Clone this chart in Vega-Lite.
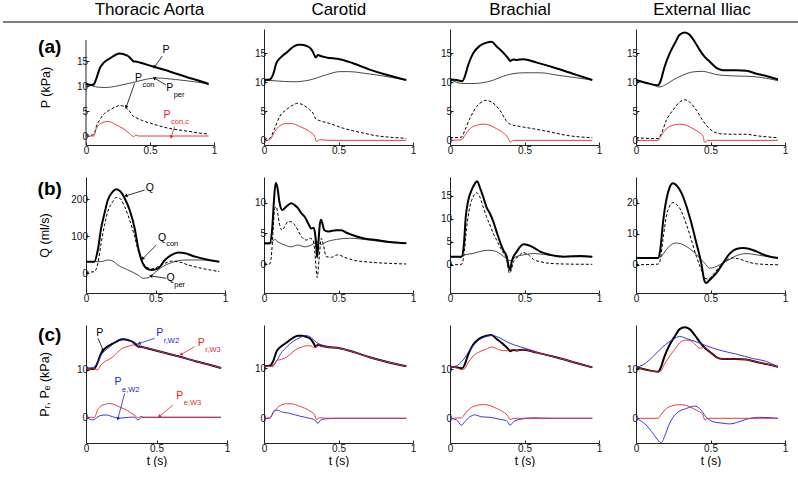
{
"$schema": "https://vega.github.io/schema/vega-lite/v6.json",
"padding": 0,
"background": "white",
"config": {
  "font": "Liberation Sans",
  "view": {"stroke": null},
  "axis": {"grid": false, "labelFont": "Liberation Sans", "labelFontSize": 10, "labelColor": "#111", "domainColor": "#222", "domainWidth": 1, "tickColor": "#222", "tickSize": -3, "labelFlush": false, "labelOverlap": false, "titleFont": "Liberation Sans", "titleFontWeight": "normal", "titleColor": "#000", "titleFontSize": 12.5},
  "axisX": {"titleFontSize": 12, "titlePadding": 2.5, "labelPadding": 3},
  "axisY": {"labelPadding": 1.5},
  "text": {"font": "Liberation Sans"}
},
"datasets": {
"a1": [
{"s":"P","t":0,"v":10.4},{"s":"P","t":0.042,"v":10.2},{"s":"P","t":0.06,"v":10.3},{"s":"P","t":0.081,"v":11.5},{"s":"P","t":0.107,"v":13.5},{"s":"P","t":0.133,"v":14.5},{"s":"P","t":0.16,"v":15.1},{"s":"P","t":0.185,"v":15.5},{"s":"P","t":0.21,"v":15.9},{"s":"P","t":0.237,"v":16.3},{"s":"P","t":0.263,"v":16.5},{"s":"P","t":0.289,"v":16.4},{"s":"P","t":0.31,"v":16.2},{"s":"P","t":0.328,"v":16},{"s":"P","t":0.345,"v":15.6},{"s":"P","t":0.36,"v":15.2},{"s":"P","t":0.372,"v":14.9},{"s":"P","t":0.388,"v":14.9},{"s":"P","t":0.419,"v":14.7},{"s":"P","t":0.523,"v":13.9},{"s":"P","t":0.654,"v":12.9},{"s":"P","t":0.784,"v":11.8},{"s":"P","t":0.914,"v":10.8},{"s":"P","t":0.958,"v":10.4},
{"s":"Pper","t":0,"v":10.4},{"s":"Pper","t":0.05,"v":10},{"s":"Pper","t":0.1,"v":9.75},{"s":"Pper","t":0.15,"v":9.7},{"s":"Pper","t":0.2,"v":9.8},{"s":"Pper","t":0.26,"v":10.1},{"s":"Pper","t":0.33,"v":10.5},{"s":"Pper","t":0.4,"v":10.9},{"s":"Pper","t":0.46,"v":11.3},{"s":"Pper","t":0.52,"v":11.55},{"s":"Pper","t":0.56,"v":11.6},{"s":"Pper","t":0.62,"v":11.5},{"s":"Pper","t":0.7,"v":11.3},{"s":"Pper","t":0.8,"v":11},{"s":"Pper","t":0.9,"v":10.65},{"s":"Pper","t":0.958,"v":10.35},
{"s":"Pcon","t":0,"v":0.2},{"s":"Pcon","t":0.05,"v":0.2},{"s":"Pcon","t":0.07,"v":0.8},{"s":"Pcon","t":0.081,"v":1.9},{"s":"Pcon","t":0.107,"v":3.2},{"s":"Pcon","t":0.133,"v":4.2},{"s":"Pcon","t":0.185,"v":5.2},{"s":"Pcon","t":0.237,"v":5.9},{"s":"Pcon","t":0.263,"v":6.1},{"s":"Pcon","t":0.289,"v":6},{"s":"Pcon","t":0.328,"v":5.3},{"s":"Pcon","t":0.35,"v":4.6},{"s":"Pcon","t":0.367,"v":4},{"s":"Pcon","t":0.388,"v":3.7},{"s":"Pcon","t":0.44,"v":3.1},{"s":"Pcon","t":0.523,"v":2.4},{"s":"Pcon","t":0.654,"v":1.5},{"s":"Pcon","t":0.784,"v":1},{"s":"Pcon","t":0.914,"v":0.5},{"s":"Pcon","t":0.958,"v":0.4},
{"s":"Pconc","t":0,"v":0},{"s":"Pconc","t":0.06,"v":0},{"s":"Pconc","t":0.081,"v":1.5},{"s":"Pconc","t":0.107,"v":2.4},{"s":"Pconc","t":0.133,"v":2.7},{"s":"Pconc","t":0.16,"v":2.9},{"s":"Pconc","t":0.185,"v":2.85},{"s":"Pconc","t":0.237,"v":2.2},{"s":"Pconc","t":0.289,"v":1.5},{"s":"Pconc","t":0.34,"v":0.5},{"s":"Pconc","t":0.372,"v":-0.1},{"s":"Pconc","t":0.39,"v":0.2},{"s":"Pconc","t":0.41,"v":0},{"s":"Pconc","t":0.958,"v":0}
],
"a2": [
{"s":"P","t":0,"v":10.4},{"s":"P","t":0.038,"v":10.5},{"s":"P","t":0.06,"v":11.3},{"s":"P","t":0.083,"v":13.3},{"s":"P","t":0.116,"v":14.4},{"s":"P","t":0.15,"v":15.1},{"s":"P","t":0.195,"v":16.1},{"s":"P","t":0.228,"v":16.5},{"s":"P","t":0.25,"v":16.5},{"s":"P","t":0.284,"v":16.3},{"s":"P","t":0.318,"v":15.7},{"s":"P","t":0.333,"v":15},{"s":"P","t":0.347,"v":14.3},{"s":"P","t":0.362,"v":14.7},{"s":"P","t":0.385,"v":14.5},{"s":"P","t":0.418,"v":14.3},{"s":"P","t":0.508,"v":14},{"s":"P","t":0.597,"v":13.3},{"s":"P","t":0.709,"v":12.2},{"s":"P","t":0.821,"v":11.3},{"s":"P","t":0.955,"v":10.4},
{"s":"Pper","t":0,"v":10.4},{"s":"Pper","t":0.083,"v":10.25},{"s":"Pper","t":0.195,"v":10.1},{"s":"Pper","t":0.306,"v":10.4},{"s":"Pper","t":0.418,"v":11.3},{"s":"Pper","t":0.508,"v":11.85},{"s":"Pper","t":0.575,"v":11.85},{"s":"Pper","t":0.664,"v":11.6},{"s":"Pper","t":0.799,"v":11.1},{"s":"Pper","t":0.955,"v":10.4},
{"s":"Pcon","t":0,"v":0.2},{"s":"Pcon","t":0.038,"v":0.35},{"s":"Pcon","t":0.072,"v":2.1},{"s":"Pcon","t":0.105,"v":4.1},{"s":"Pcon","t":0.15,"v":5.3},{"s":"Pcon","t":0.195,"v":6.1},{"s":"Pcon","t":0.228,"v":6.4},{"s":"Pcon","t":0.262,"v":6.1},{"s":"Pcon","t":0.306,"v":5.3},{"s":"Pcon","t":0.329,"v":4.7},{"s":"Pcon","t":0.347,"v":3.7},{"s":"Pcon","t":0.374,"v":3.4},{"s":"Pcon","t":0.441,"v":2.9},{"s":"Pcon","t":0.531,"v":2.1},{"s":"Pcon","t":0.642,"v":1.4},{"s":"Pcon","t":0.754,"v":0.8},{"s":"Pcon","t":0.865,"v":0.5},{"s":"Pcon","t":0.955,"v":0.35},
{"s":"Pconc","t":0,"v":0},{"s":"Pconc","t":0.038,"v":0.1},{"s":"Pconc","t":0.072,"v":1.5},{"s":"Pconc","t":0.105,"v":2.5},{"s":"Pconc","t":0.15,"v":2.9},{"s":"Pconc","t":0.183,"v":2.9},{"s":"Pconc","t":0.239,"v":2.4},{"s":"Pconc","t":0.306,"v":1.5},{"s":"Pconc","t":0.34,"v":0.7},{"s":"Pconc","t":0.351,"v":-0.2},{"s":"Pconc","t":0.374,"v":0.1},{"s":"Pconc","t":0.441,"v":0},{"s":"Pconc","t":0.955,"v":0}
],
"a3": [
{"s":"P","t":0,"v":10.5},{"s":"P","t":0.043,"v":10.4},{"s":"P","t":0.083,"v":10.2},{"s":"P","t":0.099,"v":11},{"s":"P","t":0.122,"v":13},{"s":"P","t":0.155,"v":15},{"s":"P","t":0.2,"v":16.3},{"s":"P","t":0.245,"v":16.85},{"s":"P","t":0.279,"v":17},{"s":"P","t":0.313,"v":16.2},{"s":"P","t":0.358,"v":15.1},{"s":"P","t":0.392,"v":14.1},{"s":"P","t":0.403,"v":13.7},{"s":"P","t":0.426,"v":13.95},{"s":"P","t":0.448,"v":13.85},{"s":"P","t":0.493,"v":14},{"s":"P","t":0.583,"v":13.4},{"s":"P","t":0.718,"v":12.4},{"s":"P","t":0.854,"v":11.25},{"s":"P","t":0.955,"v":10.4},
{"s":"Pper","t":0,"v":10.5},{"s":"Pper","t":0.088,"v":9.8},{"s":"Pper","t":0.155,"v":9.8},{"s":"Pper","t":0.268,"v":10.2},{"s":"Pper","t":0.38,"v":11.25},{"s":"Pper","t":0.493,"v":11.65},{"s":"Pper","t":0.606,"v":11.65},{"s":"Pper","t":0.718,"v":11.25},{"s":"Pper","t":0.831,"v":10.85},{"s":"Pper","t":0.955,"v":10.4},
{"s":"Pcon","t":0,"v":0.45},{"s":"Pcon","t":0.077,"v":0.55},{"s":"Pcon","t":0.099,"v":1.7},{"s":"Pcon","t":0.133,"v":3.75},{"s":"Pcon","t":0.178,"v":5.8},{"s":"Pcon","t":0.223,"v":6.75},{"s":"Pcon","t":0.245,"v":6.9},{"s":"Pcon","t":0.279,"v":6.6},{"s":"Pcon","t":0.335,"v":5.2},{"s":"Pcon","t":0.38,"v":3.3},{"s":"Pcon","t":0.403,"v":2.8},{"s":"Pcon","t":0.47,"v":2.4},{"s":"Pcon","t":0.56,"v":2},{"s":"Pcon","t":0.673,"v":1.45},{"s":"Pcon","t":0.786,"v":0.85},{"s":"Pcon","t":0.955,"v":0.45},
{"s":"Pconc","t":0,"v":0},{"s":"Pconc","t":0.077,"v":0.1},{"s":"Pconc","t":0.099,"v":0.85},{"s":"Pconc","t":0.133,"v":2},{"s":"Pconc","t":0.178,"v":2.6},{"s":"Pconc","t":0.223,"v":2.8},{"s":"Pconc","t":0.268,"v":2.6},{"s":"Pconc","t":0.313,"v":2},{"s":"Pconc","t":0.358,"v":1.3},{"s":"Pconc","t":0.392,"v":0.3},{"s":"Pconc","t":0.403,"v":-0.3},{"s":"Pconc","t":0.426,"v":0},{"s":"Pconc","t":0.955,"v":0}
],
"a4": [
{"s":"P","t":0,"v":10.4},{"s":"P","t":0.069,"v":9.9},{"s":"P","t":0.148,"v":9.5},{"s":"P","t":0.163,"v":10.1},{"s":"P","t":0.192,"v":12.7},{"s":"P","t":0.226,"v":15},{"s":"P","t":0.26,"v":16.7},{"s":"P","t":0.293,"v":18.2},{"s":"P","t":0.327,"v":18.6},{"s":"P","t":0.36,"v":18.2},{"s":"P","t":0.394,"v":17},{"s":"P","t":0.427,"v":15.6},{"s":"P","t":0.461,"v":14.4},{"s":"P","t":0.494,"v":13.6},{"s":"P","t":0.539,"v":12.5},{"s":"P","t":0.584,"v":12.1},{"s":"P","t":0.673,"v":12.1},{"s":"P","t":0.74,"v":12},{"s":"P","t":0.808,"v":11.5},{"s":"P","t":0.886,"v":11},{"s":"P","t":0.953,"v":10.5},
{"s":"Pper","t":0,"v":10.4},{"s":"Pper","t":0.092,"v":9.8},{"s":"Pper","t":0.159,"v":9.2},{"s":"Pper","t":0.192,"v":9.5},{"s":"Pper","t":0.248,"v":10.4},{"s":"Pper","t":0.315,"v":11.25},{"s":"Pper","t":0.383,"v":11.8},{"s":"Pper","t":0.45,"v":11.9},{"s":"Pper","t":0.494,"v":11.65},{"s":"Pper","t":0.561,"v":11.25},{"s":"Pper","t":0.673,"v":11.1},{"s":"Pper","t":0.785,"v":11},{"s":"Pper","t":0.897,"v":10.6},{"s":"Pper","t":0.953,"v":10.3},
{"s":"Pcon","t":0,"v":0.45},{"s":"Pcon","t":0.148,"v":0.3},{"s":"Pcon","t":0.17,"v":1.15},{"s":"Pcon","t":0.204,"v":3.5},{"s":"Pcon","t":0.248,"v":5.2},{"s":"Pcon","t":0.293,"v":6.6},{"s":"Pcon","t":0.327,"v":7},{"s":"Pcon","t":0.36,"v":6.6},{"s":"Pcon","t":0.405,"v":5.2},{"s":"Pcon","t":0.45,"v":3.35},{"s":"Pcon","t":0.494,"v":2},{"s":"Pcon","t":0.561,"v":1.15},{"s":"Pcon","t":0.673,"v":1.05},{"s":"Pcon","t":0.74,"v":1.05},{"s":"Pcon","t":0.808,"v":0.8},{"s":"Pcon","t":0.953,"v":0.45},
{"s":"Pconc","t":0,"v":0},{"s":"Pconc","t":0.148,"v":0},{"s":"Pconc","t":0.17,"v":0.85},{"s":"Pconc","t":0.204,"v":2},{"s":"Pconc","t":0.248,"v":2.6},{"s":"Pconc","t":0.293,"v":2.8},{"s":"Pconc","t":0.338,"v":2.6},{"s":"Pconc","t":0.383,"v":2},{"s":"Pconc","t":0.427,"v":1.3},{"s":"Pconc","t":0.45,"v":0.7},{"s":"Pconc","t":0.461,"v":-0.35},{"s":"Pconc","t":0.483,"v":0},{"s":"Pconc","t":0.953,"v":0}
],
"b1": [
{"s":"Q","t":0,"v":31.5},{"s":"Q","t":0.06,"v":31.5},{"s":"Q","t":0.085,"v":63},{"s":"Q","t":0.109,"v":122},{"s":"Q","t":0.133,"v":162},{"s":"Q","t":0.157,"v":198},{"s":"Q","t":0.193,"v":221},{"s":"Q","t":0.217,"v":227},{"s":"Q","t":0.242,"v":223},{"s":"Q","t":0.278,"v":203},{"s":"Q","t":0.314,"v":171},{"s":"Q","t":0.35,"v":122},{"s":"Q","t":0.374,"v":72},{"s":"Q","t":0.399,"v":36},{"s":"Q","t":0.435,"v":13.5},{"s":"Q","t":0.471,"v":9},{"s":"Q","t":0.519,"v":13.5},{"s":"Q","t":0.568,"v":36},{"s":"Q","t":0.616,"v":49.5},{"s":"Q","t":0.664,"v":56},{"s":"Q","t":0.713,"v":54},{"s":"Q","t":0.785,"v":45},{"s":"Q","t":0.882,"v":36},{"s":"Q","t":0.959,"v":31.5},
{"s":"Qcon","t":0,"v":2.7},{"s":"Qcon","t":0.06,"v":4.5},{"s":"Qcon","t":0.085,"v":27},{"s":"Qcon","t":0.109,"v":81},{"s":"Qcon","t":0.133,"v":130},{"s":"Qcon","t":0.157,"v":167},{"s":"Qcon","t":0.193,"v":194},{"s":"Qcon","t":0.217,"v":205},{"s":"Qcon","t":0.242,"v":203},{"s":"Qcon","t":0.278,"v":180},{"s":"Qcon","t":0.314,"v":144},{"s":"Qcon","t":0.35,"v":99},{"s":"Qcon","t":0.374,"v":63},{"s":"Qcon","t":0.399,"v":36},{"s":"Qcon","t":0.435,"v":18},{"s":"Qcon","t":0.471,"v":12},{"s":"Qcon","t":0.519,"v":18},{"s":"Qcon","t":0.568,"v":27},{"s":"Qcon","t":0.616,"v":33},{"s":"Qcon","t":0.664,"v":31.5},{"s":"Qcon","t":0.736,"v":22.5},{"s":"Qcon","t":0.833,"v":13.5},{"s":"Qcon","t":0.959,"v":4.5},
{"s":"Qper","t":0,"v":31.5},{"s":"Qper","t":0.109,"v":31.5},{"s":"Qper","t":0.157,"v":36},{"s":"Qper","t":0.193,"v":33},{"s":"Qper","t":0.229,"v":22.5},{"s":"Qper","t":0.302,"v":9},{"s":"Qper","t":0.374,"v":-4.5},{"s":"Qper","t":0.411,"v":-13.5},{"s":"Qper","t":0.447,"v":-12},{"s":"Qper","t":0.495,"v":2},{"s":"Qper","t":0.543,"v":16},{"s":"Qper","t":0.616,"v":29},{"s":"Qper","t":0.713,"v":36},{"s":"Qper","t":0.833,"v":36},{"s":"Qper","t":0.959,"v":31.5}
],
"b2": [
{"s":"Q","t":0,"v":3.4},{"s":"Q","t":0.038,"v":3.4},{"s":"Q","t":0.056,"v":6.1},{"s":"Q","t":0.067,"v":10.4},{"s":"Q","t":0.078,"v":13.2},{"s":"Q","t":0.089,"v":12.6},{"s":"Q","t":0.105,"v":9.9},{"s":"Q","t":0.123,"v":8.8},{"s":"Q","t":0.139,"v":9.1},{"s":"Q","t":0.161,"v":9.6},{"s":"Q","t":0.183,"v":9.9},{"s":"Q","t":0.206,"v":9.6},{"s":"Q","t":0.228,"v":9.1},{"s":"Q","t":0.25,"v":8.3},{"s":"Q","t":0.273,"v":7.7},{"s":"Q","t":0.295,"v":6.7},{"s":"Q","t":0.318,"v":5.8},{"s":"Q","t":0.333,"v":5.9},{"s":"Q","t":0.345,"v":4.5},{"s":"Q","t":0.352,"v":2.5},{"s":"Q","t":0.357,"v":1.1},{"s":"Q","t":0.365,"v":3.5},{"s":"Q","t":0.375,"v":6.5},{"s":"Q","t":0.383,"v":7.2},{"s":"Q","t":0.39,"v":6.8},{"s":"Q","t":0.405,"v":5.5},{"s":"Q","t":0.43,"v":5.3},{"s":"Q","t":0.452,"v":5.4},{"s":"Q","t":0.485,"v":5.5},{"s":"Q","t":0.519,"v":5.5},{"s":"Q","t":0.553,"v":5.1},{"s":"Q","t":0.597,"v":4.7},{"s":"Q","t":0.664,"v":4.2},{"s":"Q","t":0.754,"v":3.9},{"s":"Q","t":0.843,"v":3.6},{"s":"Q","t":0.955,"v":3.4},
{"s":"Qcon","t":0,"v":0},{"s":"Qcon","t":0.038,"v":0},{"s":"Qcon","t":0.049,"v":1.2},{"s":"Qcon","t":0.06,"v":5},{"s":"Qcon","t":0.072,"v":9.1},{"s":"Qcon","t":0.083,"v":9.3},{"s":"Qcon","t":0.094,"v":8},{"s":"Qcon","t":0.105,"v":6.4},{"s":"Qcon","t":0.123,"v":5.5},{"s":"Qcon","t":0.139,"v":6.1},{"s":"Qcon","t":0.161,"v":6.9},{"s":"Qcon","t":0.183,"v":6.9},{"s":"Qcon","t":0.206,"v":6.4},{"s":"Qcon","t":0.228,"v":5.5},{"s":"Qcon","t":0.25,"v":4.5},{"s":"Qcon","t":0.284,"v":3.9},{"s":"Qcon","t":0.306,"v":4.2},{"s":"Qcon","t":0.329,"v":3.9},{"s":"Qcon","t":0.34,"v":2.3},{"s":"Qcon","t":0.357,"v":-2.2},{"s":"Qcon","t":0.369,"v":0.65},{"s":"Qcon","t":0.385,"v":4.2},{"s":"Qcon","t":0.396,"v":3.4},{"s":"Qcon","t":0.418,"v":1.2},{"s":"Qcon","t":0.452,"v":1.1},{"s":"Qcon","t":0.497,"v":1.5},{"s":"Qcon","t":0.541,"v":1.1},{"s":"Qcon","t":0.597,"v":0.65},{"s":"Qcon","t":0.709,"v":0.3},{"s":"Qcon","t":0.843,"v":0.1},{"s":"Qcon","t":0.955,"v":0},
{"s":"Qper","t":0,"v":3.3},{"s":"Qper","t":0.038,"v":3.3},{"s":"Qper","t":0.072,"v":4},{"s":"Qper","t":0.094,"v":3.6},{"s":"Qper","t":0.139,"v":3.1},{"s":"Qper","t":0.183,"v":2.8},{"s":"Qper","t":0.228,"v":3.1},{"s":"Qper","t":0.273,"v":2.8},{"s":"Qper","t":0.318,"v":3.1},{"s":"Qper","t":0.356,"v":3.6},{"s":"Qper","t":0.385,"v":3.2},{"s":"Qper","t":0.418,"v":3.6},{"s":"Qper","t":0.485,"v":4},{"s":"Qper","t":0.575,"v":4.2},{"s":"Qper","t":0.709,"v":3.9},{"s":"Qper","t":0.843,"v":3.5},{"s":"Qper","t":0.955,"v":3.4}
],
"b3": [
{"s":"Q","t":0,"v":1.8},{"s":"Q","t":0.077,"v":1.8},{"s":"Q","t":0.092,"v":4},{"s":"Q","t":0.106,"v":10.5},{"s":"Q","t":0.122,"v":14},{"s":"Q","t":0.144,"v":16.2},{"s":"Q","t":0.167,"v":17.7},{"s":"Q","t":0.182,"v":18.2},{"s":"Q","t":0.2,"v":16.9},{"s":"Q","t":0.223,"v":14.8},{"s":"Q","t":0.245,"v":12.6},{"s":"Q","t":0.268,"v":11.2},{"s":"Q","t":0.291,"v":9.4},{"s":"Q","t":0.313,"v":7.2},{"s":"Q","t":0.336,"v":5},{"s":"Q","t":0.358,"v":3.2},{"s":"Q","t":0.381,"v":1.8},{"s":"Q","t":0.394,"v":-0.4},{"s":"Q","t":0.403,"v":-1.1},{"s":"Q","t":0.414,"v":0.7},{"s":"Q","t":0.426,"v":1.8},{"s":"Q","t":0.448,"v":2.9},{"s":"Q","t":0.471,"v":4},{"s":"Q","t":0.493,"v":4.5},{"s":"Q","t":0.527,"v":4.3},{"s":"Q","t":0.561,"v":3.8},{"s":"Q","t":0.606,"v":2.9},{"s":"Q","t":0.673,"v":2.2},{"s":"Q","t":0.764,"v":1.8},{"s":"Q","t":0.876,"v":1.95},{"s":"Q","t":0.955,"v":1.8},
{"s":"Qcon","t":0,"v":0},{"s":"Qcon","t":0.077,"v":0.15},{"s":"Qcon","t":0.092,"v":1.8},{"s":"Qcon","t":0.11,"v":7.6},{"s":"Qcon","t":0.133,"v":12.6},{"s":"Qcon","t":0.155,"v":14.8},{"s":"Qcon","t":0.178,"v":15.7},{"s":"Qcon","t":0.2,"v":14.8},{"s":"Qcon","t":0.223,"v":12.6},{"s":"Qcon","t":0.245,"v":10.5},{"s":"Qcon","t":0.268,"v":8.7},{"s":"Qcon","t":0.291,"v":6.8},{"s":"Qcon","t":0.313,"v":5.4},{"s":"Qcon","t":0.347,"v":3.2},{"s":"Qcon","t":0.381,"v":1.1},{"s":"Qcon","t":0.399,"v":-1.8},{"s":"Qcon","t":0.408,"v":-1.4},{"s":"Qcon","t":0.426,"v":0.7},{"s":"Qcon","t":0.459,"v":1.9},{"s":"Qcon","t":0.493,"v":2.7},{"s":"Qcon","t":0.527,"v":2.2},{"s":"Qcon","t":0.561,"v":1.2},{"s":"Qcon","t":0.606,"v":0.7},{"s":"Qcon","t":0.673,"v":0.35},{"s":"Qcon","t":0.786,"v":0.2},{"s":"Qcon","t":0.955,"v":0.15},
{"s":"Qper","t":0,"v":1.8},{"s":"Qper","t":0.077,"v":1.8},{"s":"Qper","t":0.099,"v":2.2},{"s":"Qper","t":0.155,"v":2.5},{"s":"Qper","t":0.223,"v":3.1},{"s":"Qper","t":0.268,"v":3.2},{"s":"Qper","t":0.313,"v":2.9},{"s":"Qper","t":0.358,"v":1.9},{"s":"Qper","t":0.392,"v":1.1},{"s":"Qper","t":0.408,"v":0.9},{"s":"Qper","t":0.437,"v":1.7},{"s":"Qper","t":0.493,"v":2.2},{"s":"Qper","t":0.561,"v":2.5},{"s":"Qper","t":0.628,"v":2.3},{"s":"Qper","t":0.718,"v":1.95},{"s":"Qper","t":0.831,"v":1.8},{"s":"Qper","t":0.955,"v":1.8}
],
"b4": [
{"s":"Q","t":0,"v":2.2},{"s":"Q","t":0.148,"v":2.2},{"s":"Q","t":0.163,"v":4.9},{"s":"Q","t":0.181,"v":13.5},{"s":"Q","t":0.204,"v":21},{"s":"Q","t":0.226,"v":24.9},{"s":"Q","t":0.248,"v":26.2},{"s":"Q","t":0.271,"v":25.6},{"s":"Q","t":0.304,"v":23.2},{"s":"Q","t":0.338,"v":18.9},{"s":"Q","t":0.371,"v":13.5},{"s":"Q","t":0.405,"v":7},{"s":"Q","t":0.438,"v":0.5},{"s":"Q","t":0.461,"v":-5.4},{"s":"Q","t":0.472,"v":-5.9},{"s":"Q","t":0.494,"v":-4.9},{"s":"Q","t":0.539,"v":-2.7},{"s":"Q","t":0.584,"v":0.5},{"s":"Q","t":0.629,"v":3.6},{"s":"Q","t":0.673,"v":5.1},{"s":"Q","t":0.718,"v":5.4},{"s":"Q","t":0.763,"v":5.1},{"s":"Q","t":0.808,"v":4.3},{"s":"Q","t":0.875,"v":2.9},{"s":"Q","t":0.953,"v":2.2},
{"s":"Qcon","t":0,"v":0},{"s":"Qcon","t":0.148,"v":0.2},{"s":"Qcon","t":0.163,"v":1.6},{"s":"Qcon","t":0.181,"v":8.1},{"s":"Qcon","t":0.204,"v":15.7},{"s":"Qcon","t":0.226,"v":18.9},{"s":"Qcon","t":0.248,"v":20},{"s":"Qcon","t":0.271,"v":19.5},{"s":"Qcon","t":0.304,"v":17.3},{"s":"Qcon","t":0.338,"v":13},{"s":"Qcon","t":0.371,"v":8.1},{"s":"Qcon","t":0.405,"v":2.7},{"s":"Qcon","t":0.438,"v":-1.6},{"s":"Qcon","t":0.461,"v":-4.3},{"s":"Qcon","t":0.483,"v":-4.6},{"s":"Qcon","t":0.517,"v":-3.2},{"s":"Qcon","t":0.561,"v":-0.5},{"s":"Qcon","t":0.606,"v":1.4},{"s":"Qcon","t":0.651,"v":2.2},{"s":"Qcon","t":0.696,"v":1.8},{"s":"Qcon","t":0.74,"v":1.1},{"s":"Qcon","t":0.808,"v":0.3},{"s":"Qcon","t":0.953,"v":0},
{"s":"Qper","t":0,"v":2.2},{"s":"Qper","t":0.148,"v":2.2},{"s":"Qper","t":0.17,"v":2.7},{"s":"Qper","t":0.204,"v":4.9},{"s":"Qper","t":0.237,"v":6.5},{"s":"Qper","t":0.271,"v":7},{"s":"Qper","t":0.304,"v":6.7},{"s":"Qper","t":0.338,"v":5.9},{"s":"Qper","t":0.383,"v":4.3},{"s":"Qper","t":0.427,"v":2.2},{"s":"Qper","t":0.461,"v":0.5},{"s":"Qper","t":0.494,"v":-1.1},{"s":"Qper","t":0.528,"v":-0.8},{"s":"Qper","t":0.561,"v":0},{"s":"Qper","t":0.606,"v":1.1},{"s":"Qper","t":0.673,"v":2.9},{"s":"Qper","t":0.74,"v":3.6},{"s":"Qper","t":0.808,"v":3.2},{"s":"Qper","t":0.875,"v":2.7},{"s":"Qper","t":0.953,"v":2.2}
],
"c1": [
{"s":"P","t":0,"v":10.4},{"s":"P","t":0.042,"v":10.2},{"s":"P","t":0.06,"v":10.3},{"s":"P","t":0.081,"v":11.5},{"s":"P","t":0.107,"v":13.5},{"s":"P","t":0.133,"v":14.5},{"s":"P","t":0.16,"v":15.1},{"s":"P","t":0.185,"v":15.5},{"s":"P","t":0.21,"v":15.9},{"s":"P","t":0.237,"v":16.3},{"s":"P","t":0.263,"v":16.5},{"s":"P","t":0.289,"v":16.4},{"s":"P","t":0.31,"v":16.2},{"s":"P","t":0.328,"v":16},{"s":"P","t":0.345,"v":15.6},{"s":"P","t":0.36,"v":15.2},{"s":"P","t":0.372,"v":14.9},{"s":"P","t":0.388,"v":14.9},{"s":"P","t":0.419,"v":14.7},{"s":"P","t":0.523,"v":13.9},{"s":"P","t":0.654,"v":12.9},{"s":"P","t":0.784,"v":11.8},{"s":"P","t":0.914,"v":10.8},{"s":"P","t":0.958,"v":10.4},
{"s":"Rw2","t":0,"v":10.4},{"s":"Rw2","t":0.042,"v":10.5},{"s":"Rw2","t":0.06,"v":10.65},{"s":"Rw2","t":0.081,"v":11.4},{"s":"Rw2","t":0.107,"v":13.15},{"s":"Rw2","t":0.133,"v":14.03},{"s":"Rw2","t":0.16,"v":14.68},{"s":"Rw2","t":0.185,"v":15.33},{"s":"Rw2","t":0.21,"v":15.9},{"s":"Rw2","t":0.237,"v":16.5},{"s":"Rw2","t":0.263,"v":16.62},{"s":"Rw2","t":0.289,"v":16.44},{"s":"Rw2","t":0.31,"v":16.18},{"s":"Rw2","t":0.328,"v":15.97},{"s":"Rw2","t":0.345,"v":15.75},{"s":"Rw2","t":0.36,"v":15.55},{"s":"Rw2","t":0.372,"v":15.4},{"s":"Rw2","t":0.388,"v":14.95},{"s":"Rw2","t":0.419,"v":14.7},{"s":"Rw2","t":0.523,"v":13.9},{"s":"Rw2","t":0.654,"v":12.9},{"s":"Rw2","t":0.784,"v":11.8},{"s":"Rw2","t":0.914,"v":10.8},{"s":"Rw2","t":0.958,"v":10.4},
{"s":"Ew2","t":0,"v":0},{"s":"Ew2","t":0.05,"v":-0.55},{"s":"Ew2","t":0.075,"v":-0.1},{"s":"Ew2","t":0.096,"v":0.3},{"s":"Ew2","t":0.142,"v":0.5},{"s":"Ew2","t":0.188,"v":0.14},{"s":"Ew2","t":0.233,"v":-0.2},{"s":"Ew2","t":0.302,"v":0},{"s":"Ew2","t":0.34,"v":0.05},{"s":"Ew2","t":0.371,"v":-0.55},{"s":"Ew2","t":0.394,"v":0},{"s":"Ew2","t":0.958,"v":0},
{"s":"Rw3","t":0,"v":10.4},{"s":"Rw3","t":0.042,"v":10.2},{"s":"Rw3","t":0.06,"v":10.3},{"s":"Rw3","t":0.081,"v":10},{"s":"Rw3","t":0.107,"v":11.1},{"s":"Rw3","t":0.133,"v":11.8},{"s":"Rw3","t":0.16,"v":12.2},{"s":"Rw3","t":0.185,"v":12.65},{"s":"Rw3","t":0.21,"v":13.36},{"s":"Rw3","t":0.237,"v":14.1},{"s":"Rw3","t":0.263,"v":14.65},{"s":"Rw3","t":0.289,"v":14.9},{"s":"Rw3","t":0.31,"v":15.1},{"s":"Rw3","t":0.328,"v":15.28},{"s":"Rw3","t":0.345,"v":15.19},{"s":"Rw3","t":0.36,"v":15.08},{"s":"Rw3","t":0.372,"v":15},{"s":"Rw3","t":0.388,"v":14.73},{"s":"Rw3","t":0.419,"v":14.7},{"s":"Rw3","t":0.523,"v":13.9},{"s":"Rw3","t":0.654,"v":12.9},{"s":"Rw3","t":0.784,"v":11.8},{"s":"Rw3","t":0.914,"v":10.8},{"s":"Rw3","t":0.958,"v":10.4},
{"s":"Ew3","t":0,"v":0},{"s":"Ew3","t":0.06,"v":0},{"s":"Ew3","t":0.081,"v":1.5},{"s":"Ew3","t":0.107,"v":2.4},{"s":"Ew3","t":0.133,"v":2.7},{"s":"Ew3","t":0.16,"v":2.9},{"s":"Ew3","t":0.185,"v":2.85},{"s":"Ew3","t":0.237,"v":2.2},{"s":"Ew3","t":0.289,"v":1.5},{"s":"Ew3","t":0.34,"v":0.5},{"s":"Ew3","t":0.372,"v":-0.1},{"s":"Ew3","t":0.39,"v":0.2},{"s":"Ew3","t":0.41,"v":0},{"s":"Ew3","t":0.958,"v":0}
],
"c2": [
{"s":"P","t":0,"v":10.4},{"s":"P","t":0.038,"v":10.5},{"s":"P","t":0.06,"v":11.3},{"s":"P","t":0.083,"v":13.3},{"s":"P","t":0.116,"v":14.4},{"s":"P","t":0.15,"v":15.1},{"s":"P","t":0.195,"v":16.1},{"s":"P","t":0.228,"v":16.5},{"s":"P","t":0.25,"v":16.5},{"s":"P","t":0.284,"v":16.3},{"s":"P","t":0.318,"v":15.7},{"s":"P","t":0.333,"v":15},{"s":"P","t":0.347,"v":14.3},{"s":"P","t":0.362,"v":14.7},{"s":"P","t":0.385,"v":14.5},{"s":"P","t":0.418,"v":14.3},{"s":"P","t":0.508,"v":14},{"s":"P","t":0.597,"v":13.3},{"s":"P","t":0.709,"v":12.2},{"s":"P","t":0.821,"v":11.3},{"s":"P","t":0.955,"v":10.4},
{"s":"Rw2","t":0,"v":10.4},{"s":"Rw2","t":0.038,"v":10.45},{"s":"Rw2","t":0.06,"v":10.6},{"s":"Rw2","t":0.083,"v":11.4},{"s":"Rw2","t":0.116,"v":13.1},{"s":"Rw2","t":0.15,"v":14.2},{"s":"Rw2","t":0.195,"v":15.4},{"s":"Rw2","t":0.239,"v":16.1},{"s":"Rw2","t":0.284,"v":16.55},{"s":"Rw2","t":0.318,"v":16.1},{"s":"Rw2","t":0.351,"v":15.2},{"s":"Rw2","t":0.385,"v":14.7},{"s":"Rw2","t":0.418,"v":14.4},{"s":"Rw2","t":0.508,"v":14},{"s":"Rw2","t":0.597,"v":13.3},{"s":"Rw2","t":0.709,"v":12.2},{"s":"Rw2","t":0.821,"v":11.3},{"s":"Rw2","t":0.955,"v":10.4},
{"s":"Ew2","t":0,"v":0},{"s":"Ew2","t":0.038,"v":0},{"s":"Ew2","t":0.072,"v":1.6},{"s":"Ew2","t":0.094,"v":1.6},{"s":"Ew2","t":0.116,"v":1.3},{"s":"Ew2","t":0.172,"v":1},{"s":"Ew2","t":0.239,"v":0.45},{"s":"Ew2","t":0.306,"v":0},{"s":"Ew2","t":0.34,"v":-0.3},{"s":"Ew2","t":0.362,"v":-1},{"s":"Ew2","t":0.378,"v":-0.4},{"s":"Ew2","t":0.418,"v":-0.1},{"s":"Ew2","t":0.508,"v":0},{"s":"Ew2","t":0.955,"v":0},
{"s":"Rw3","t":0,"v":10.4},{"s":"Rw3","t":0.038,"v":10.4},{"s":"Rw3","t":0.06,"v":10.3},{"s":"Rw3","t":0.083,"v":11.47},{"s":"Rw3","t":0.116,"v":11.8},{"s":"Rw3","t":0.15,"v":12.2},{"s":"Rw3","t":0.195,"v":13.31},{"s":"Rw3","t":0.228,"v":14},{"s":"Rw3","t":0.25,"v":14.2},{"s":"Rw3","t":0.284,"v":14.5},{"s":"Rw3","t":0.318,"v":14.48},{"s":"Rw3","t":0.333,"v":14.14},{"s":"Rw3","t":0.347,"v":14.17},{"s":"Rw3","t":0.362,"v":14.76},{"s":"Rw3","t":0.385,"v":14.42},{"s":"Rw3","t":0.418,"v":14.27},{"s":"Rw3","t":0.508,"v":14},{"s":"Rw3","t":0.597,"v":13.3},{"s":"Rw3","t":0.709,"v":12.2},{"s":"Rw3","t":0.821,"v":11.3},{"s":"Rw3","t":0.955,"v":10.4},
{"s":"Ew3","t":0,"v":0},{"s":"Ew3","t":0.038,"v":0.1},{"s":"Ew3","t":0.072,"v":1.5},{"s":"Ew3","t":0.105,"v":2.5},{"s":"Ew3","t":0.15,"v":2.9},{"s":"Ew3","t":0.183,"v":2.9},{"s":"Ew3","t":0.239,"v":2.4},{"s":"Ew3","t":0.306,"v":1.5},{"s":"Ew3","t":0.34,"v":0.7},{"s":"Ew3","t":0.351,"v":-0.2},{"s":"Ew3","t":0.374,"v":0.1},{"s":"Ew3","t":0.441,"v":0},{"s":"Ew3","t":0.955,"v":0}
],
"c3": [
{"s":"P","t":0,"v":10.5},{"s":"P","t":0.043,"v":10.4},{"s":"P","t":0.083,"v":10.2},{"s":"P","t":0.099,"v":11},{"s":"P","t":0.122,"v":13},{"s":"P","t":0.155,"v":15},{"s":"P","t":0.2,"v":16.3},{"s":"P","t":0.245,"v":16.85},{"s":"P","t":0.279,"v":17},{"s":"P","t":0.313,"v":16.2},{"s":"P","t":0.358,"v":15.1},{"s":"P","t":0.392,"v":14.1},{"s":"P","t":0.403,"v":13.7},{"s":"P","t":0.426,"v":13.95},{"s":"P","t":0.448,"v":13.85},{"s":"P","t":0.493,"v":14},{"s":"P","t":0.583,"v":13.4},{"s":"P","t":0.718,"v":12.4},{"s":"P","t":0.854,"v":11.25},{"s":"P","t":0.955,"v":10.4},
{"s":"Rw2","t":0,"v":10.4},{"s":"Rw2","t":0.043,"v":10.7},{"s":"Rw2","t":0.088,"v":11.9},{"s":"Rw2","t":0.133,"v":13.9},{"s":"Rw2","t":0.178,"v":15.6},{"s":"Rw2","t":0.223,"v":16.5},{"s":"Rw2","t":0.268,"v":16.9},{"s":"Rw2","t":0.313,"v":16.7},{"s":"Rw2","t":0.358,"v":16},{"s":"Rw2","t":0.403,"v":15.3},{"s":"Rw2","t":0.471,"v":14.6},{"s":"Rw2","t":0.561,"v":13.75},{"s":"Rw2","t":0.6,"v":13.3},{"s":"Rw2","t":0.718,"v":12.4},{"s":"Rw2","t":0.854,"v":11.25},{"s":"Rw2","t":0.955,"v":10.4},
{"s":"Ew2","t":0,"v":0},{"s":"Ew2","t":0.043,"v":-0.3},{"s":"Ew2","t":0.077,"v":-1.4},{"s":"Ew2","t":0.099,"v":-0.7},{"s":"Ew2","t":0.133,"v":0.3},{"s":"Ew2","t":0.167,"v":0.7},{"s":"Ew2","t":0.212,"v":0.3},{"s":"Ew2","t":0.268,"v":0.2},{"s":"Ew2","t":0.335,"v":-0.2},{"s":"Ew2","t":0.38,"v":-0.5},{"s":"Ew2","t":0.403,"v":-1.4},{"s":"Ew2","t":0.426,"v":-0.7},{"s":"Ew2","t":0.471,"v":-0.2},{"s":"Ew2","t":0.561,"v":0.1},{"s":"Ew2","t":0.673,"v":0},{"s":"Ew2","t":0.955,"v":0},
{"s":"Rw3","t":0,"v":10.5},{"s":"Rw3","t":0.043,"v":10.34},{"s":"Rw3","t":0.083,"v":9.9},{"s":"Rw3","t":0.099,"v":10.15},{"s":"Rw3","t":0.122,"v":11.37},{"s":"Rw3","t":0.155,"v":12.71},{"s":"Rw3","t":0.2,"v":13.6},{"s":"Rw3","t":0.245,"v":14.15},{"s":"Rw3","t":0.279,"v":14.55},{"s":"Rw3","t":0.313,"v":14.2},{"s":"Rw3","t":0.358,"v":13.8},{"s":"Rw3","t":0.392,"v":13.8},{"s":"Rw3","t":0.403,"v":14},{"s":"Rw3","t":0.426,"v":13.95},{"s":"Rw3","t":0.448,"v":13.85},{"s":"Rw3","t":0.493,"v":14},{"s":"Rw3","t":0.583,"v":13.4},{"s":"Rw3","t":0.718,"v":12.4},{"s":"Rw3","t":0.854,"v":11.25},{"s":"Rw3","t":0.955,"v":10.4},
{"s":"Ew3","t":0,"v":0},{"s":"Ew3","t":0.077,"v":0.1},{"s":"Ew3","t":0.099,"v":0.85},{"s":"Ew3","t":0.133,"v":2},{"s":"Ew3","t":0.178,"v":2.6},{"s":"Ew3","t":0.223,"v":2.8},{"s":"Ew3","t":0.268,"v":2.6},{"s":"Ew3","t":0.313,"v":2},{"s":"Ew3","t":0.358,"v":1.3},{"s":"Ew3","t":0.392,"v":0.3},{"s":"Ew3","t":0.403,"v":-0.3},{"s":"Ew3","t":0.426,"v":0},{"s":"Ew3","t":0.955,"v":0}
],
"c4": [
{"s":"P","t":0,"v":10.4},{"s":"P","t":0.069,"v":9.9},{"s":"P","t":0.148,"v":9.5},{"s":"P","t":0.163,"v":10.1},{"s":"P","t":0.192,"v":12.7},{"s":"P","t":0.226,"v":15},{"s":"P","t":0.26,"v":16.7},{"s":"P","t":0.293,"v":18.2},{"s":"P","t":0.327,"v":18.6},{"s":"P","t":0.36,"v":18.2},{"s":"P","t":0.394,"v":17},{"s":"P","t":0.427,"v":15.6},{"s":"P","t":0.461,"v":14.4},{"s":"P","t":0.494,"v":13.6},{"s":"P","t":0.539,"v":12.5},{"s":"P","t":0.584,"v":12.1},{"s":"P","t":0.673,"v":12.1},{"s":"P","t":0.74,"v":12},{"s":"P","t":0.808,"v":11.5},{"s":"P","t":0.886,"v":11},{"s":"P","t":0.953,"v":10.5},
{"s":"Rw2","t":0,"v":10.4},{"s":"Rw2","t":0.047,"v":10.9},{"s":"Rw2","t":0.114,"v":12.6},{"s":"Rw2","t":0.181,"v":14.6},{"s":"Rw2","t":0.248,"v":16.1},{"s":"Rw2","t":0.293,"v":16.7},{"s":"Rw2","t":0.338,"v":16.3},{"s":"Rw2","t":0.405,"v":15.6},{"s":"Rw2","t":0.472,"v":14.8},{"s":"Rw2","t":0.562,"v":13.9},{"s":"Rw2","t":0.673,"v":13.1},{"s":"Rw2","t":0.785,"v":12.2},{"s":"Rw2","t":0.875,"v":11.6},{"s":"Rw2","t":0.953,"v":10.5},
{"s":"Ew2","t":0,"v":0},{"s":"Ew2","t":0.069,"v":-1.4},{"s":"Ew2","t":0.114,"v":-3.1},{"s":"Ew2","t":0.159,"v":-4.8},{"s":"Ew2","t":0.17,"v":-5},{"s":"Ew2","t":0.192,"v":-3.7},{"s":"Ew2","t":0.226,"v":-1},{"s":"Ew2","t":0.271,"v":1},{"s":"Ew2","t":0.338,"v":2},{"s":"Ew2","t":0.394,"v":2.5},{"s":"Ew2","t":0.427,"v":2},{"s":"Ew2","t":0.472,"v":0.2},{"s":"Ew2","t":0.517,"v":-0.7},{"s":"Ew2","t":0.584,"v":-1},{"s":"Ew2","t":0.629,"v":-1.15},{"s":"Ew2","t":0.673,"v":-0.9},{"s":"Ew2","t":0.74,"v":-0.2},{"s":"Ew2","t":0.83,"v":0.2},{"s":"Ew2","t":0.953,"v":0},
{"s":"Rw3","t":0,"v":10.4},{"s":"Rw3","t":0.069,"v":9.9},{"s":"Rw3","t":0.148,"v":9.5},{"s":"Rw3","t":0.163,"v":9.52},{"s":"Rw3","t":0.192,"v":11.11},{"s":"Rw3","t":0.226,"v":12.7},{"s":"Rw3","t":0.26,"v":14.05},{"s":"Rw3","t":0.293,"v":15.4},{"s":"Rw3","t":0.327,"v":15.95},{"s":"Rw3","t":0.36,"v":15.89},{"s":"Rw3","t":0.394,"v":15.17},{"s":"Rw3","t":0.427,"v":14.3},{"s":"Rw3","t":0.461,"v":14.5},{"s":"Rw3","t":0.494,"v":13.6},{"s":"Rw3","t":0.539,"v":12.5},{"s":"Rw3","t":0.584,"v":12.1},{"s":"Rw3","t":0.673,"v":12.1},{"s":"Rw3","t":0.74,"v":12},{"s":"Rw3","t":0.808,"v":11.5},{"s":"Rw3","t":0.886,"v":11},{"s":"Rw3","t":0.953,"v":10.5},
{"s":"Ew3","t":0,"v":0},{"s":"Ew3","t":0.148,"v":0},{"s":"Ew3","t":0.17,"v":0.85},{"s":"Ew3","t":0.204,"v":2},{"s":"Ew3","t":0.248,"v":2.6},{"s":"Ew3","t":0.293,"v":2.8},{"s":"Ew3","t":0.338,"v":2.6},{"s":"Ew3","t":0.383,"v":2},{"s":"Ew3","t":0.427,"v":1.3},{"s":"Ew3","t":0.45,"v":0.7},{"s":"Ew3","t":0.461,"v":-0.35},{"s":"Ew3","t":0.483,"v":0},{"s":"Ew3","t":0.953,"v":0}
]
},
"columns": 4,
"spacing": {"row": 32, "column": 37},
"bounds": "flush",
"concat": [
 {"width": 128, "height": 116,
  "encoding": {"x": {"field": "t", "type": "quantitative", "scale": {"domain": [0, 1]}, "axis": {"values": [0, 0.5, 1], "format": ".2~f", "title": null}},
               "y": {"field": "v", "type": "quantitative", "scale": {"domain": [-1.8, 21.4]}, "axis": {"values": [0, 5, 10, 15], "format": ".1~f", "title": "P (kPa)", "titlePadding": 24, "domain": false}}},
  "layer": [
   {"data": {"values": [{"t": 0.496, "v": 24.2, "label": "Thoracic Aorta"}]}, "mark": {"type": "text", "fontSize": 17, "align": "center", "baseline": "alphabetic", "color": "#000"}, "encoding": {"text": {"field": "label"}}},
   {"data": {"values": [{"t": -0.6484, "v": 22.8}, {"t": 1.2344, "v": 22.8}]}, "mark": {"type": "line", "color": "#555", "strokeWidth": 1.5}},
   {"data": {"values": [{"t": 0, "v": -1.8}, {"t": 0, "v": 19.2}]}, "mark": {"type": "line", "color": "#222", "strokeWidth": 1}},
   {"data": {"values": [{"t": -0.2836, "v": 17.86, "label": "(a)"}]}, "mark": {"type": "text", "fontSize": 19, "fontWeight": "bold", "align": "center", "baseline": "middle", "color": "#000"}, "encoding": {"text": {"field": "label"}}},
   {"data": {"name": "a1"}, "transform": [{"filter": "datum.s==='Pper'"}], "mark": {"type": "line", "color": "#333", "strokeWidth": 0.9, "interpolate": "monotone"}},
   {"data": {"name": "a1"}, "transform": [{"filter": "datum.s==='Pcon'"}], "mark": {"type": "line", "color": "#000", "strokeWidth": 1, "strokeDash": [3, 2], "interpolate": "monotone"}},
   {"data": {"name": "a1"}, "transform": [{"filter": "datum.s==='Pconc'"}], "mark": {"type": "line", "color": "#e3262b", "strokeWidth": 0.9, "interpolate": "monotone"}},
   {"data": {"name": "a1"}, "transform": [{"filter": "datum.s==='P'"}], "mark": {"type": "line", "color": "#000", "strokeWidth": 2, "interpolate": "monotone"}},
   {"data": {"values": [{"t": 0.596, "v": 16, "t2": 0.537, "v2": 13.86}, {"t": 0.625, "v": 10.2, "t2": 0.537, "v2": 11.54}, {"t": 0.38, "v": 10.54, "t2": 0.315, "v2": 5.86}]}, "mark": {"type": "rule", "color": "#000", "strokeWidth": 0.8}, "encoding": {"x2": {"field": "t2"}, "y2": {"field": "v2"}}},
   {"data": {"values": [{"t": 0.693, "v": 1.86, "t2": 0.666, "v2": -0.14}]}, "mark": {"type": "rule", "color": "#e3262b", "strokeWidth": 0.8}, "encoding": {"x2": {"field": "t2"}, "y2": {"field": "v2"}}},
   {"data": {"values": [{"t": 0.537, "v": 13.86}]}, "mark": {"type": "point", "shape": "triangle", "angle": 215, "size": 14, "filled": true, "opacity": 1, "color": "#000"}},
   {"data": {"values": [{"t": 0.537, "v": 11.54}]}, "mark": {"type": "point", "shape": "triangle", "angle": 301, "size": 14, "filled": true, "opacity": 1, "color": "#000"}},
   {"data": {"values": [{"t": 0.315, "v": 5.86}]}, "mark": {"type": "point", "shape": "triangle", "angle": 200, "size": 14, "filled": true, "opacity": 1, "color": "#000"}},
   {"data": {"values": [{"t": 0.666, "v": -0.14}]}, "mark": {"type": "point", "shape": "triangle", "angle": 199, "size": 14, "filled": true, "opacity": 1, "color": "#e3262b"}},
   {"data": {"values": [{"t": 0.625, "v": 17.14, "label": "P"}, {"t": 0.654, "v": 9.54, "label": "P"}, {"t": 0.41, "v": 11.54, "label": "P"}]}, "mark": {"type": "text", "fontSize": 10.5, "align": "center", "baseline": "middle", "color": "#000"}, "encoding": {"text": {"field": "label"}}},
   {"data": {"values": [{"t": 0.685, "v": 8.2, "label": "per"}, {"t": 0.441, "v": 10.2, "label": "con"}]}, "mark": {"type": "text", "fontSize": 7.5, "align": "left", "baseline": "middle", "color": "#000"}, "encoding": {"text": {"field": "label"}}},
   {"data": {"values": [{"t": 0.633, "v": 4.2, "label": "P"}]}, "mark": {"type": "text", "fontSize": 10.5, "align": "center", "baseline": "middle", "color": "#e3262b"}, "encoding": {"text": {"field": "label"}}},
   {"data": {"values": [{"t": 0.664, "v": 2.86, "label": "con,c"}]}, "mark": {"type": "text", "fontSize": 7.5, "align": "left", "baseline": "middle", "color": "#e3262b"}, "encoding": {"text": {"field": "label"}}}
  ]},
 {"width": 149, "height": 116,
  "encoding": {"x": {"field": "t", "type": "quantitative", "scale": {"domain": [0, 1]}, "axis": {"values": [0, 0.5, 1], "format": ".2~f", "title": null}},
               "y": {"field": "v", "type": "quantitative", "scale": {"domain": [-0.8, 19.2]}, "axis": {"values": [0, 5, 10, 15], "format": ".1~f", "title": null}}},
  "layer": [
   {"data": {"values": [{"t": 0.502, "v": 21.614, "label": "Carotid"}]}, "mark": {"type": "text", "fontSize": 17, "align": "center", "baseline": "alphabetic", "color": "#000"}, "encoding": {"text": {"field": "label"}}},
   {"data": {"values": [{"t": -0.1342, "v": 20.407}, {"t": 1.1208, "v": 20.407}]}, "mark": {"type": "line", "color": "#555", "strokeWidth": 1.5}},
   {"data": {"name": "a2"}, "transform": [{"filter": "datum.s==='Pper'"}], "mark": {"type": "line", "color": "#333", "strokeWidth": 0.9, "interpolate": "monotone"}},
   {"data": {"name": "a2"}, "transform": [{"filter": "datum.s==='Pcon'"}], "mark": {"type": "line", "color": "#000", "strokeWidth": 1, "strokeDash": [3, 2], "interpolate": "monotone"}},
   {"data": {"name": "a2"}, "transform": [{"filter": "datum.s==='Pconc'"}], "mark": {"type": "line", "color": "#e3262b", "strokeWidth": 0.9, "interpolate": "monotone"}},
   {"data": {"name": "a2"}, "transform": [{"filter": "datum.s==='P'"}], "mark": {"type": "line", "color": "#000", "strokeWidth": 2, "interpolate": "monotone"}}
  ]},
 {"width": 149, "height": 116,
  "encoding": {"x": {"field": "t", "type": "quantitative", "scale": {"domain": [0, 1]}, "axis": {"values": [0, 0.5, 1], "format": ".2~f", "title": null}},
               "y": {"field": "v", "type": "quantitative", "scale": {"domain": [-0.8, 19.2]}, "axis": {"values": [0, 5, 10, 15], "format": ".1~f", "title": null}}},
  "layer": [
   {"data": {"values": [{"t": 0.47, "v": 21.614, "label": "Brachial"}]}, "mark": {"type": "text", "fontSize": 17, "align": "center", "baseline": "alphabetic", "color": "#000"}, "encoding": {"text": {"field": "label"}}},
   {"data": {"values": [{"t": -0.1275, "v": 20.407}, {"t": 1.1208, "v": 20.407}]}, "mark": {"type": "line", "color": "#555", "strokeWidth": 1.5}},
   {"data": {"name": "a3"}, "transform": [{"filter": "datum.s==='Pper'"}], "mark": {"type": "line", "color": "#333", "strokeWidth": 0.9, "interpolate": "monotone"}},
   {"data": {"name": "a3"}, "transform": [{"filter": "datum.s==='Pcon'"}], "mark": {"type": "line", "color": "#000", "strokeWidth": 1, "strokeDash": [3, 2], "interpolate": "monotone"}},
   {"data": {"name": "a3"}, "transform": [{"filter": "datum.s==='Pconc'"}], "mark": {"type": "line", "color": "#e3262b", "strokeWidth": 0.9, "interpolate": "monotone"}},
   {"data": {"name": "a3"}, "transform": [{"filter": "datum.s==='P'"}], "mark": {"type": "line", "color": "#000", "strokeWidth": 2, "interpolate": "monotone"}}
  ]},
 {"width": 149, "height": 116,
  "encoding": {"x": {"field": "t", "type": "quantitative", "scale": {"domain": [0, 1]}, "axis": {"values": [0, 0.5, 1], "format": ".2~f", "title": null}},
               "y": {"field": "v", "type": "quantitative", "scale": {"domain": [-0.8, 19.2]}, "axis": {"values": [0, 5, 10, 15], "format": ".1~f", "title": null}}},
  "layer": [
   {"data": {"values": [{"t": 0.443, "v": 21.614, "label": "External Iliac"}]}, "mark": {"type": "text", "fontSize": 17, "align": "center", "baseline": "alphabetic", "color": "#000"}, "encoding": {"text": {"field": "label"}}},
   {"data": {"values": [{"t": -0.1275, "v": 20.407}, {"t": 1.1074, "v": 20.407}]}, "mark": {"type": "line", "color": "#555", "strokeWidth": 1.5}},
   {"data": {"name": "a4"}, "transform": [{"filter": "datum.s==='Pper'"}], "mark": {"type": "line", "color": "#333", "strokeWidth": 0.9, "interpolate": "monotone"}},
   {"data": {"name": "a4"}, "transform": [{"filter": "datum.s==='Pcon'"}], "mark": {"type": "line", "color": "#000", "strokeWidth": 1, "strokeDash": [3, 2], "interpolate": "monotone"}},
   {"data": {"name": "a4"}, "transform": [{"filter": "datum.s==='Pconc'"}], "mark": {"type": "line", "color": "#e3262b", "strokeWidth": 0.9, "interpolate": "monotone"}},
   {"data": {"name": "a4"}, "transform": [{"filter": "datum.s==='P'"}], "mark": {"type": "line", "color": "#000", "strokeWidth": 2, "interpolate": "monotone"}}
  ]},
 {"width": 139, "height": 116,
  "encoding": {"x": {"field": "t", "type": "quantitative", "scale": {"domain": [0, 1]}, "axis": {"values": [0, 0.5, 1], "format": ".2~f", "title": null}},
               "y": {"field": "v", "type": "quantitative", "scale": {"domain": [-53.2, 260.3]}, "axis": {"values": [0, 100, 200], "format": ".1~f", "title": "Q (ml/s)", "titlePadding": 19}}},
  "layer": [
   {"data": {"values": [{"t": -0.2612, "v": 227, "label": "(b)"}]}, "mark": {"type": "text", "fontSize": 19, "fontWeight": "bold", "align": "center", "baseline": "middle", "color": "#000"}, "encoding": {"text": {"field": "label"}}},
   {"data": {"name": "b1"}, "transform": [{"filter": "datum.s==='Qper'"}], "mark": {"type": "line", "color": "#333", "strokeWidth": 0.9, "interpolate": "monotone"}},
   {"data": {"name": "b1"}, "transform": [{"filter": "datum.s==='Qcon'"}], "mark": {"type": "line", "color": "#000", "strokeWidth": 1, "strokeDash": [3, 2], "interpolate": "monotone"}},
   {"data": {"name": "b1"}, "transform": [{"filter": "datum.s==='Q'"}], "mark": {"type": "line", "color": "#000", "strokeWidth": 2, "interpolate": "monotone"}},
   {"data": {"values": [{"t": 0.422, "v": 225.1, "t2": 0.29, "v2": 209.7}, {"t": 0.506, "v": 76.5, "t2": 0.41, "v2": 40.5}, {"t": 0.578, "v": -13.5, "t2": 0.47, "v2": -7.3}]}, "mark": {"type": "rule", "color": "#000", "strokeWidth": 0.8}, "encoding": {"x2": {"field": "t2"}, "y2": {"field": "v2"}}},
   {"data": {"values": [{"t": 0.29, "v": 209.7}]}, "mark": {"type": "point", "shape": "triangle", "angle": 253, "size": 14, "filled": true, "opacity": 1, "color": "#000"}},
   {"data": {"values": [{"t": 0.41, "v": 40.5}]}, "mark": {"type": "point", "shape": "triangle", "angle": 225, "size": 14, "filled": true, "opacity": 1, "color": "#000"}},
   {"data": {"values": [{"t": 0.47, "v": -7.3}]}, "mark": {"type": "point", "shape": "triangle", "angle": 279, "size": 14, "filled": true, "opacity": 1, "color": "#000"}},
   {"data": {"values": [{"t": 0.46, "v": 231.4, "label": "Q"}, {"t": 0.548, "v": 94.6, "label": "Q"}, {"t": 0.608, "v": -13.5, "label": "Q"}]}, "mark": {"type": "text", "fontSize": 10.5, "align": "center", "baseline": "middle", "color": "#000"}, "encoding": {"text": {"field": "label"}}},
   {"data": {"values": [{"t": 0.577, "v": 78.4, "label": "con"}, {"t": 0.635, "v": -31.6, "label": "per"}]}, "mark": {"type": "text", "fontSize": 7.5, "align": "left", "baseline": "middle", "color": "#000"}, "encoding": {"text": {"field": "label"}}}
  ]},
 {"width": 149, "height": 116,
  "encoding": {"x": {"field": "t", "type": "quantitative", "scale": {"domain": [0, 1]}, "axis": {"values": [0, 0.5, 1], "format": ".2~f", "title": null}},
               "y": {"field": "v", "type": "quantitative", "scale": {"domain": [-4.73, 14.19]}, "axis": {"values": [0, 5, 10], "format": ".1~f", "title": null}}},
  "layer": [
   {"data": {"name": "b2"}, "transform": [{"filter": "datum.s==='Qper'"}], "mark": {"type": "line", "color": "#333", "strokeWidth": 0.9, "interpolate": "monotone"}},
   {"data": {"name": "b2"}, "transform": [{"filter": "datum.s==='Qcon'"}], "mark": {"type": "line", "color": "#000", "strokeWidth": 1, "strokeDash": [3, 2], "interpolate": "monotone"}},
   {"data": {"name": "b2"}, "transform": [{"filter": "datum.s==='Q'"}], "mark": {"type": "line", "color": "#000", "strokeWidth": 2, "interpolate": "monotone"}}
  ]},
 {"width": 149, "height": 116,
  "encoding": {"x": {"field": "t", "type": "quantitative", "scale": {"domain": [0, 1]}, "axis": {"values": [0, 0.5, 1], "format": ".2~f", "title": null}},
               "y": {"field": "v", "type": "quantitative", "scale": {"domain": [-6.09, 19.13]}, "axis": {"values": [0, 5, 10, 15], "format": ".1~f", "title": null}}},
  "layer": [
   {"data": {"name": "b3"}, "transform": [{"filter": "datum.s==='Qper'"}], "mark": {"type": "line", "color": "#333", "strokeWidth": 0.9, "interpolate": "monotone"}},
   {"data": {"name": "b3"}, "transform": [{"filter": "datum.s==='Qcon'"}], "mark": {"type": "line", "color": "#000", "strokeWidth": 1, "strokeDash": [3, 2], "interpolate": "monotone"}},
   {"data": {"name": "b3"}, "transform": [{"filter": "datum.s==='Q'"}], "mark": {"type": "line", "color": "#000", "strokeWidth": 2, "interpolate": "monotone"}}
  ]},
 {"width": 149, "height": 116,
  "encoding": {"x": {"field": "t", "type": "quantitative", "scale": {"domain": [0, 1]}, "axis": {"values": [0, 0.5, 1], "format": ".2~f", "title": null}},
               "y": {"field": "v", "type": "quantitative", "scale": {"domain": [-9.09, 28.25]}, "axis": {"values": [0, 10, 20], "format": ".1~f", "title": null}}},
  "layer": [
   {"data": {"name": "b4"}, "transform": [{"filter": "datum.s==='Qper'"}], "mark": {"type": "line", "color": "#333", "strokeWidth": 0.9, "interpolate": "monotone"}},
   {"data": {"name": "b4"}, "transform": [{"filter": "datum.s==='Qcon'"}], "mark": {"type": "line", "color": "#000", "strokeWidth": 1, "strokeDash": [3, 2], "interpolate": "monotone"}},
   {"data": {"name": "b4"}, "transform": [{"filter": "datum.s==='Q'"}], "mark": {"type": "line", "color": "#000", "strokeWidth": 2, "interpolate": "monotone"}}
  ]},
 {"width": 141, "height": 118,
  "encoding": {"x": {"field": "t", "type": "quantitative", "scale": {"domain": [0, 1]}, "axis": {"values": [0, 0.5, 1], "format": ".2~f", "title": "t (s)"}},
               "y": {"field": "v", "type": "quantitative", "scale": {"domain": [-5.43, 19.51]}, "axis": {"values": [0, 10], "format": ".1~f", "title": "Pᵣ, Pₑ (kPa)", "titlePadding": 25}}},
  "layer": [
   {"data": {"values": [{"t": -0.2574, "v": 17.4, "label": "(c)"}]}, "mark": {"type": "text", "fontSize": 19, "fontWeight": "bold", "align": "center", "baseline": "middle", "color": "#000"}, "encoding": {"text": {"field": "label"}}},
   {"data": {"name": "c1"}, "transform": [{"filter": "datum.s==='P'"}], "mark": {"type": "line", "color": "#000", "strokeWidth": 2, "interpolate": "monotone"}},
   {"data": {"name": "c1"}, "transform": [{"filter": "datum.s==='Rw2'"}], "mark": {"type": "line", "color": "#2323d6", "strokeWidth": 0.9, "interpolate": "monotone"}},
   {"data": {"name": "c1"}, "transform": [{"filter": "datum.s==='Ew2'"}], "mark": {"type": "line", "color": "#2323d6", "strokeWidth": 0.9, "interpolate": "monotone"}},
   {"data": {"name": "c1"}, "transform": [{"filter": "datum.s==='Rw3'"}], "mark": {"type": "line", "color": "#e3262b", "strokeWidth": 0.9, "interpolate": "monotone"}},
   {"data": {"name": "c1"}, "transform": [{"filter": "datum.s==='Ew3'"}], "mark": {"type": "line", "color": "#e3262b", "strokeWidth": 0.9, "interpolate": "monotone"}},
   {"data": {"values": [{"t": 0.085, "v": 16.7, "t2": 0.121, "v2": 14.23}]}, "mark": {"type": "rule", "color": "#000", "strokeWidth": 0.8}, "encoding": {"x2": {"field": "t2"}, "y2": {"field": "v2"}}},
   {"data": {"values": [{"t": 0.487, "v": 16.7, "t2": 0.38, "v2": 15.64}, {"t": 0.274, "v": 5.07, "t2": 0.227, "v2": -0.21}]}, "mark": {"type": "rule", "color": "#2323d6", "strokeWidth": 0.8}, "encoding": {"x2": {"field": "t2"}, "y2": {"field": "v2"}}},
   {"data": {"values": [{"t": 0.771, "v": 14.93, "t2": 0.676, "v2": 13.32}, {"t": 0.617, "v": 2.6, "t2": 0.522, "v2": 0.27}]}, "mark": {"type": "rule", "color": "#e3262b", "strokeWidth": 0.8}, "encoding": {"x2": {"field": "t2"}, "y2": {"field": "v2"}}},
   {"data": {"values": [{"t": 0.121, "v": 14.23}]}, "mark": {"type": "point", "shape": "triangle", "angle": 157, "size": 14, "filled": true, "opacity": 1, "color": "#000"}},
   {"data": {"values": [{"t": 0.38, "v": 15.64}]}, "mark": {"type": "point", "shape": "triangle", "angle": 252, "size": 14, "filled": true, "opacity": 1, "color": "#2323d6"}},
   {"data": {"values": [{"t": 0.227, "v": -0.21}]}, "mark": {"type": "point", "shape": "triangle", "angle": 195, "size": 14, "filled": true, "opacity": 1, "color": "#2323d6"}},
   {"data": {"values": [{"t": 0.676, "v": 13.32}]}, "mark": {"type": "point", "shape": "triangle", "angle": 240, "size": 14, "filled": true, "opacity": 1, "color": "#e3262b"}},
   {"data": {"values": [{"t": 0.522, "v": 0.27}]}, "mark": {"type": "point", "shape": "triangle", "angle": 230, "size": 14, "filled": true, "opacity": 1, "color": "#e3262b"}},
   {"data": {"values": [{"t": 0.097, "v": 17.76, "label": "P"}]}, "mark": {"type": "text", "fontSize": 10.5, "align": "center", "baseline": "middle", "color": "#000"}, "encoding": {"text": {"field": "label"}}},
   {"data": {"values": [{"t": 0.523, "v": 17.76, "label": "P"}, {"t": 0.227, "v": 7.4, "label": "P"}]}, "mark": {"type": "text", "fontSize": 10.5, "align": "center", "baseline": "middle", "color": "#2323d6"}, "encoding": {"text": {"field": "label"}}},
   {"data": {"values": [{"t": 0.551, "v": 16.19, "label": "r,W2"}, {"t": 0.255, "v": 5.77, "label": "e,W2"}]}, "mark": {"type": "text", "fontSize": 7.5, "align": "left", "baseline": "middle", "color": "#2323d6"}, "encoding": {"text": {"field": "label"}}},
   {"data": {"values": [{"t": 0.818, "v": 15.64, "label": "P"}, {"t": 0.665, "v": 4.5, "label": "P"}]}, "mark": {"type": "text", "fontSize": 10.5, "align": "center", "baseline": "middle", "color": "#e3262b"}, "encoding": {"text": {"field": "label"}}},
   {"data": {"values": [{"t": 0.846, "v": 14.23, "label": "r,W3"}, {"t": 0.693, "v": 3.09, "label": "e,W3"}]}, "mark": {"type": "text", "fontSize": 7.5, "align": "left", "baseline": "middle", "color": "#e3262b"}, "encoding": {"text": {"field": "label"}}}
  ]},
 {"width": 149, "height": 118,
  "encoding": {"x": {"field": "t", "type": "quantitative", "scale": {"domain": [0, 1]}, "axis": {"values": [0, 0.5, 1], "format": ".2~f", "title": "t (s)"}},
               "y": {"field": "v", "type": "quantitative", "scale": {"domain": [-4.94, 18.66]}, "axis": {"values": [0, 10], "format": ".1~f", "title": null}}},
  "layer": [
   {"data": {"name": "c2"}, "transform": [{"filter": "datum.s==='P'"}], "mark": {"type": "line", "color": "#000", "strokeWidth": 2, "interpolate": "monotone"}},
   {"data": {"name": "c2"}, "transform": [{"filter": "datum.s==='Rw2'"}], "mark": {"type": "line", "color": "#2323d6", "strokeWidth": 0.9, "interpolate": "monotone"}},
   {"data": {"name": "c2"}, "transform": [{"filter": "datum.s==='Ew2'"}], "mark": {"type": "line", "color": "#2323d6", "strokeWidth": 0.9, "interpolate": "monotone"}},
   {"data": {"name": "c2"}, "transform": [{"filter": "datum.s==='Rw3'"}], "mark": {"type": "line", "color": "#e3262b", "strokeWidth": 0.9, "interpolate": "monotone"}},
   {"data": {"name": "c2"}, "transform": [{"filter": "datum.s==='Ew3'"}], "mark": {"type": "line", "color": "#e3262b", "strokeWidth": 0.9, "interpolate": "monotone"}}
  ]},
 {"width": 149, "height": 118,
  "encoding": {"x": {"field": "t", "type": "quantitative", "scale": {"domain": [0, 1]}, "axis": {"values": [0, 0.5, 1], "format": ".2~f", "title": "t (s)"}},
               "y": {"field": "v", "type": "quantitative", "scale": {"domain": [-5.04, 19.04]}, "axis": {"values": [0, 10], "format": ".1~f", "title": null}}},
  "layer": [
   {"data": {"name": "c3"}, "transform": [{"filter": "datum.s==='P'"}], "mark": {"type": "line", "color": "#000", "strokeWidth": 2, "interpolate": "monotone"}},
   {"data": {"name": "c3"}, "transform": [{"filter": "datum.s==='Rw2'"}], "mark": {"type": "line", "color": "#2323d6", "strokeWidth": 0.9, "interpolate": "monotone"}},
   {"data": {"name": "c3"}, "transform": [{"filter": "datum.s==='Ew2'"}], "mark": {"type": "line", "color": "#2323d6", "strokeWidth": 0.9, "interpolate": "monotone"}},
   {"data": {"name": "c3"}, "transform": [{"filter": "datum.s==='Rw3'"}], "mark": {"type": "line", "color": "#e3262b", "strokeWidth": 0.9, "interpolate": "monotone"}},
   {"data": {"name": "c3"}, "transform": [{"filter": "datum.s==='Ew3'"}], "mark": {"type": "line", "color": "#e3262b", "strokeWidth": 0.9, "interpolate": "monotone"}}
  ]},
 {"width": 149, "height": 118,
  "encoding": {"x": {"field": "t", "type": "quantitative", "scale": {"domain": [0, 1]}, "axis": {"values": [0, 0.5, 1], "format": ".2~f", "title": "t (s)"}},
               "y": {"field": "v", "type": "quantitative", "scale": {"domain": [-5.04, 19.04]}, "axis": {"values": [0, 10], "format": ".1~f", "title": null}}},
  "layer": [
   {"data": {"name": "c4"}, "transform": [{"filter": "datum.s==='P'"}], "mark": {"type": "line", "color": "#000", "strokeWidth": 2, "interpolate": "monotone"}},
   {"data": {"name": "c4"}, "transform": [{"filter": "datum.s==='Rw2'"}], "mark": {"type": "line", "color": "#2323d6", "strokeWidth": 0.9, "interpolate": "monotone"}},
   {"data": {"name": "c4"}, "transform": [{"filter": "datum.s==='Ew2'"}], "mark": {"type": "line", "color": "#2323d6", "strokeWidth": 0.9, "interpolate": "monotone"}},
   {"data": {"name": "c4"}, "transform": [{"filter": "datum.s==='Rw3'"}], "mark": {"type": "line", "color": "#e3262b", "strokeWidth": 0.9, "interpolate": "monotone"}},
   {"data": {"name": "c4"}, "transform": [{"filter": "datum.s==='Ew3'"}], "mark": {"type": "line", "color": "#e3262b", "strokeWidth": 0.9, "interpolate": "monotone"}}
  ]}
]
}
